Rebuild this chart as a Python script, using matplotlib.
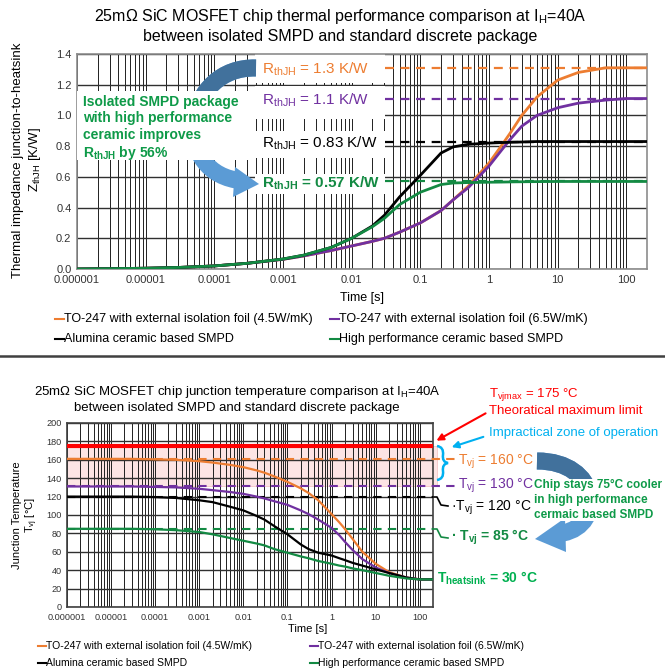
import matplotlib
matplotlib.use("Agg")
import matplotlib.pyplot as plt
from matplotlib.lines import Line2D
from matplotlib.patches import FancyArrowPatch, Rectangle, PathPatch, Polygon
from matplotlib.path import Path
from matplotlib.transforms import Bbox, TransformedBbox
from matplotlib.ticker import FixedLocator, LogLocator, NullFormatter

plt.rcParams["font.family"] = ["Liberation Sans", "DejaVu Sans"]
plt.rcParams["mathtext.default"] = "regular"

# ---- datos ----
tiempo = [1e-6, 3e-6, 1e-5, 3e-5, 1e-4, 3e-4, 1e-3, 2e-3, 5e-3, 1e-2, 2e-2, 3e-2, 5e-2,
          0.1, 0.2, 0.3, 0.5, 1, 1.5, 2, 3, 5, 10, 20, 50, 100, 200]

# impedancia termica Zth [K/W]
zth_foil45 = [0, 0.002, 0.005, 0.01, 0.02, 0.037, 0.063, 0.085, 0.12, 0.15, 0.18, 0.2, 0.24,
              0.3, 0.38, 0.45, 0.54, 0.69, 0.8, 0.88, 1.0, 1.12, 1.23, 1.28, 1.31, 1.31, 1.31]
zth_foil65 = [0, 0.002, 0.005, 0.01, 0.02, 0.037, 0.063, 0.085, 0.12, 0.15, 0.18, 0.2, 0.24,
              0.3, 0.38, 0.45, 0.53, 0.67, 0.77, 0.84, 0.93, 1.0, 1.05, 1.08, 1.1, 1.11, 1.11]
zth_alumina = [0, 0.002, 0.005, 0.01, 0.02, 0.037, 0.065, 0.09, 0.14, 0.2, 0.28, 0.35, 0.47,
               0.61, 0.755, 0.795, 0.812, 0.82, 0.823, 0.825, 0.827, 0.83, 0.83, 0.83, 0.83, 0.83, 0.83]
zth_hpc = [0, 0.002, 0.005, 0.01, 0.02, 0.037, 0.065, 0.09, 0.14, 0.2, 0.275, 0.33, 0.42,
           0.5, 0.55, 0.56, 0.563, 0.565, 0.566, 0.567, 0.568, 0.569, 0.57, 0.57, 0.57, 0.57, 0.57]
rth_final = [1.31, 1.11, 0.83, 0.57]
rth_textos = ["1.3 K/W", "1.1 K/W", "0.83 K/W", "0.57 K/W"]

# temperatura de union Tvj [C]
tvj_foil45 = [161, 161, 161, 161, 160.5, 160, 158.5, 157, 154.5, 152, 148.5, 146, 142,
              136, 129, 124, 116, 101, 92, 85, 74, 60, 47, 38, 32, 30, 30]
tvj_foil65 = [131, 131, 131, 131, 130.5, 130, 128.5, 127, 125, 123, 120, 118, 115,
              111, 105, 101, 95, 86, 78, 71, 62, 52, 43, 37, 32, 30, 30]
tvj_alumina = [120, 120, 120, 120, 119.5, 118.5, 116, 114, 109, 105, 99, 95, 88,
               79, 68, 63, 59, 56, 53, 51, 48, 45, 41, 37, 32, 30, 30]
tvj_hpc = [85, 85, 85, 85, 84.5, 83.5, 81.5, 79, 75, 72, 69, 67, 63,
           59, 55, 53, 50, 47, 45, 44, 42, 40, 37, 34, 31, 30, 30]
tvj_inicial = [161, 131, 120, 85]
tvj_max = 175

x_ticks = [1e-6, 1e-5, 1e-4, 1e-3, 1e-2, 1e-1, 1, 10, 100]
x_tick_labels = ["0.000001", "0.00001", "0.0001", "0.001", "0.01", "0.1", "1", "10", "100"]
leyenda = ["TO-247 with external isolation foil (4.5W/mK)",
           "TO-247 with external isolation foil (6.5W/mK)",
           "Alumina ceramic based SMPD",
           "High performance ceramic based SMPD"]
colores = ["#ED7D31", "#7030A0", "#000000", "#138A43"]

W, H = 665, 671


def fxy(x, y):
    # pixeles (origen arriba a la izquierda) -> fraccion de figura
    return (x / W, 1 - y / H)


fig = plt.figure(figsize=(W / 100, H / 100), dpi=100)


def recorte_arriba(y):
    # caja de recorte: todo lo que queda por encima de la fila y (en pixeles)
    return TransformedBbox(Bbox.from_extents(0, 1 - y / H, 1, 1), fig.transFigure)


def flecha_curva(destino, puntos, ancho, base, punta, corte, z):
    # cuerpo = curva bezier cubica gruesa, cabeza = triangulo; dos tonos de azul
    curva = Path([fxy(*p) for p in puntos], [Path.MOVETO, Path.CURVE4, Path.CURVE4, Path.CURVE4])
    cabeza = [fxy(*p) for p in base + [punta]]
    for col, c in [("#5B9BD5", None), ("#41719C", corte)]:
        cuerpo = PathPatch(curva, transform=fig.transFigure, fc="none", ec=col,
                           lw=ancho * 0.72, capstyle="butt", zorder=z)
        tri = Polygon(cabeza, closed=True, transform=fig.transFigure, fc=col, ec="none", zorder=z)
        for art in (cuerpo, tri):
            destino(art)
            if c:
                art.set_clip_box(recorte_arriba(c))


def preparar_ejes(ax, tick_size):
    ax.set_xscale("log")
    ax.set_xlim(1e-6, 200)
    ax.xaxis.set_major_locator(FixedLocator(x_ticks))
    ax.set_xticklabels(x_tick_labels)
    ax.xaxis.set_minor_locator(LogLocator(base=10, subs=range(2, 10), numticks=30))
    ax.xaxis.set_minor_formatter(NullFormatter())
    ax.grid(which="both", axis="x", color="#202020", lw=0.7)
    ax.grid(which="major", axis="y", color="#303030", lw=1.0)
    ax.tick_params(which="both", length=0, labelsize=tick_size, colors="#333333", pad=4)
    for s in ax.spines.values():
        s.set_color("#8c8c8c")
        s.set_linewidth(1.2)


# ================= grafico superior: Zth =================
ax1 = fig.add_axes([77 / W, 1 - 269 / H, 570 / W, 215 / H])
preparar_ejes(ax1, 8)
ax1.set_ylim(0, 1.4)
ax1.set_yticks([0, 0.2, 0.4, 0.6, 0.8, 1.0, 1.2, 1.4])
ax1.set_yticklabels(["0.0", "0.2", "0.4", "0.6", "0.8", "1.0", "1.2", "1.4"])

for serie, c in zip([zth_foil45, zth_foil65, zth_alumina, zth_hpc], colores):
    ax1.plot(tiempo, serie, color=c, lw=2, zorder=4)

# cajas blancas de las etiquetas R_thJH
caja_x0 = (255 - 77) / 570
caja_w = (385 - 255) / 570
cajas_y = [(1.21, 1.40), (0.98, 1.19), (0.72, 0.90), (0.49, 0.62)]
for (y0, y1), r, c, txt in zip(cajas_y, rth_final, colores, rth_textos):
    ax1.add_patch(Rectangle((caja_x0, y0), caja_w, y1 - y0, transform=ax1.get_yaxis_transform(),
                            fc="white", ec="none", zorder=2))
    peso = "bold" if c == colores[3] else "normal"
    ax1.text(caja_x0 + 0.012, r - 0.01, "R$_{thJH}$ = " + txt, transform=ax1.get_yaxis_transform(),
             color=c, fontsize=11, fontweight=peso, va="center", ha="left", zorder=5)
    ax1.plot([0.031, 200], [r, r], color=c, lw=1.6, ls=(0, (4, 3)), zorder=3)

# caja verde con el texto
ax1.add_patch(Rectangle((0, 0.71), caja_x0, 0.45, transform=ax1.get_yaxis_transform(),
                        fc="white", ec="none", zorder=2.6))
ax1.text(0.01, 1.135, "Isolated SMPD package\nwith high performance\nceramic improves\nR$_{thJH}$ by 56%",
         transform=ax1.get_yaxis_transform(), color="#0E9A48", fontsize=10, fontweight="bold",
         va="top", ha="left", linespacing=1.22, zorder=6)

# flecha curva azul detras de la caja verde
flecha_curva(ax1.add_artist, [(256, 68), (185, 66), (170, 168), (236, 180)], 17,
             [(235, 167), (233, 197)], (259, 184), 125, 2.3)

fig.text(*fxy(340, 17), "25m\u03a9 SiC MOSFET chip thermal performance comparison at I$_H$=40A",
         fontsize=11.5, ha="center", va="center")
fig.text(*fxy(340, 36), "between isolated SMPD and standard discrete package",
         fontsize=11.5, ha="center", va="center")
fig.text(*fxy(18, 160), "Thermal impedance junction-to-heatsink", rotation=90,
         fontsize=9.5, ha="center", va="center")
fig.text(*fxy(35, 160), "Z$_{thJH}$ [K/W]", rotation=90, fontsize=9.5, ha="center", va="center")
fig.text(*fxy(362, 298), "Time [s]", fontsize=9, ha="center", va="center")


def leyenda_manual(x_cols, y_filas, size, largo):
    pos = [(x_cols[0], y_filas[0]), (x_cols[1], y_filas[0]), (x_cols[0], y_filas[1]), (x_cols[1], y_filas[1])]
    for (x, y), c, txt in zip(pos, colores, leyenda):
        fig.add_artist(Line2D([x / W, (x + largo) / W], [1 - y / H, 1 - y / H], color=c, lw=1.5))
        fig.text((x + largo) / W, 1 - y / H, txt, fontsize=size, ha="left", va="center")


leyenda_manual([55, 330], [319, 339], 9, 9)

# linea separadora
fig.add_artist(Line2D([0, 1], [1 - 356 / H, 1 - 356 / H], color="#404040", lw=1.8))

# ================= grafico inferior: Tvj =================
ax2 = fig.add_axes([67 / W, 1 - 607 / H, 366 / W, 184 / H])
preparar_ejes(ax2, 6.6)
ax2.set_ylim(0, 200)
ax2.set_yticks(range(0, 201, 20))
for s in ax2.spines.values():
    s.set_color("#404040")

zona = ax2.axhspan(132, tvj_max, xmin=0, xmax=1.01, fc="#FCE4E4", ec="#F4C6C6", lw=0.6, zorder=1)
zona.set_clip_on(False)
ax2.axhline(tvj_max, color="#FF0000", lw=3, zorder=5)

for serie, c in zip([tvj_foil45, tvj_foil65, tvj_alumina, tvj_hpc], colores):
    ax2.plot(tiempo, serie, color=c, lw=1.6, zorder=4)

extension = [(455 - 67) / 366, (455 - 67) / 366, 1, 1]
for v, c, xm in zip(tvj_inicial, colores, extension):
    ax2.axhline(v, xmin=0, xmax=xm, color=c, lw=1.5, ls=(0, (4, 3)), clip_on=False, zorder=3)

# lineas guia para 120 y 85 C
for y0, c in [(497, colores[2]), (529, colores[3])]:
    fig.add_artist(Line2D([434 / W, 437 / W, 441 / W, 448 / W],
                          [1 - y0 / H, 1 - y0 / H, 1 - (y0 + 8) / H, 1 - (y0 + 9) / H], color=c, lw=1.2))

# llave azul
llave = Path([fxy(437, 446), fxy(444, 447), fxy(443, 455), fxy(442, 462), fxy(448, 463),
              fxy(442, 464), fxy(443, 471), fxy(444, 479), fxy(437, 480)],
             [Path.MOVETO, Path.CURVE3, Path.CURVE3, Path.CURVE3, Path.CURVE3,
              Path.CURVE3, Path.CURVE3, Path.CURVE3, Path.CURVE3])
fig.add_artist(PathPatch(llave, transform=fig.transFigure, fc="none", ec="#00B0F0", lw=1.8))

# flechas roja y azul
fig.add_artist(FancyArrowPatch(fxy(488, 412), fxy(434, 442), transform=fig.transFigure,
                               arrowstyle="-|>", mutation_scale=10, color="#FF0000", lw=1.5))
fig.add_artist(FancyArrowPatch(fxy(486, 436), fxy(449, 448), transform=fig.transFigure,
                               arrowstyle="-|>", mutation_scale=10, color="#00B0F0", lw=1.5))

# flecha curva derecha (detras del texto verde)
flecha_curva(fig.add_artist, [(537, 461), (600, 461), (605, 525), (563, 533)], 17,
             [(565, 518), (566, 552)], (535, 539), 500, 1)

fig.text(*fxy(489, 394), "T$_{vjmax}$ = 175 \u00b0C", color="#FF0000", fontsize=9.5, va="center")
fig.text(*fxy(489, 411), "Theoratical maximum limit", color="#FF0000", fontsize=9.5, va="center")
fig.text(*fxy(489, 433), "Impractical zone of operation", color="#00B0F0", fontsize=9.5, va="center")
fig.text(*fxy(458, 462), "T$_{vj}$ = 160 \u00b0C", color=colores[0], fontsize=10, va="center")
fig.text(*fxy(458, 486), "T$_{vj}$ = 130 \u00b0C", color=colores[1], fontsize=10, va="center")
fig.text(*fxy(451, 508), "\u00b7T$_{vj}$ = 120 \u00b0C", color="black", fontsize=10, va="center")
fig.text(*fxy(451, 537), "\u00b7 T$_{vj}$ = 85 \u00b0C", color=colores[3], fontsize=10,
         fontweight="bold", va="center")
fig.text(*fxy(437, 578), "T$_{heatsink}$ = 30 \u00b0C", color="#00B050", fontsize=10,
         fontweight="bold", va="center")
fig.text(*fxy(534, 500), "Chip stays 75\u00b0C cooler\nin high performance\ncermaic based SMPD",
         color="#0E9A48", fontsize=8.5, fontweight="bold", va="center", ha="left", linespacing=1.28,
         bbox=dict(fc="white", ec="none", pad=0.5), zorder=3)

fig.text(*fxy(237, 392), "25m\u03a9 SiC MOSFET chip junction temperature comparison at I$_H$=40A",
         fontsize=9.5, ha="center", va="center")
fig.text(*fxy(237, 408), "between isolated SMPD and standard discrete package",
         fontsize=9.5, ha="center", va="center")
fig.text(*fxy(17, 515), "Junction Temperature", rotation=90, fontsize=8, ha="center", va="center")
fig.text(*fxy(32, 515), "T$_{vj}$ [\u00b0C]", rotation=90, fontsize=8, ha="center", va="center")
fig.text(*fxy(308, 629), "Time [s]", fontsize=8, ha="center", va="center")

leyenda_manual([38, 310], [646, 663], 7.5, 8)

fig.savefig("out.png", dpi=100)
